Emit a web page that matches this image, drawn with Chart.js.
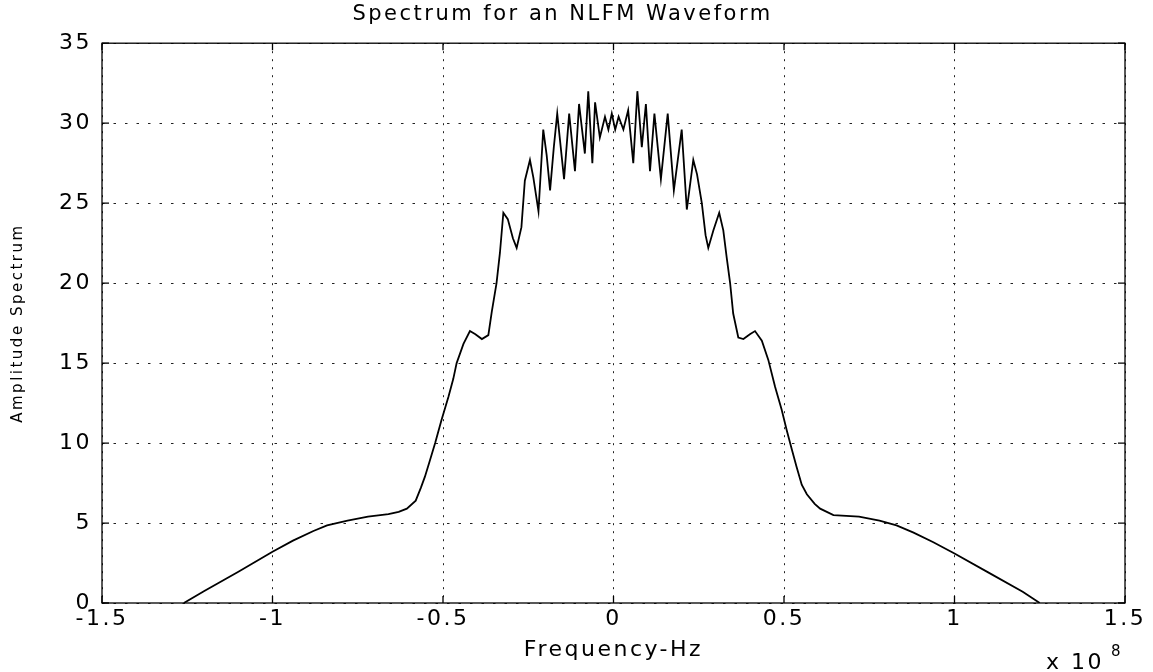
<!DOCTYPE html>
<html>
<head>
<meta charset="utf-8">
<title>Spectrum for an NLFM Waveform</title>
<script src="https://cdn.jsdelivr.net/npm/chart.js@4.4.1/dist/chart.umd.min.js"></script>
<style>
  html, body { margin: 0; padding: 0; background: #fff; }
  #wrap { position: relative; width: 1153px; height: 672px; }
</style>
</head>
<body>
<div id="wrap"><canvas id="spectrum"></canvas></div>
<script>
// frequency in units of 1e8 Hz (axis shows "x 10^8")
const freqs = [
  -1.26, -1.20, -1.10, -1.00, -0.94, -0.88, -0.84, -0.78, -0.72, -0.66,
  -0.63, -0.606, -0.58, -0.565, -0.553, -0.54, -0.523, -0.505, -0.484, -0.47,
  -0.46, -0.44, -0.421, -0.405, -0.386, -0.367, -0.357, -0.343, -0.333, -0.323,
  -0.31, -0.295, -0.284, -0.27, -0.26, -0.245, -0.235, -0.22, -0.206, -0.196,
  -0.186, -0.175, -0.165, -0.145, -0.130, -0.113, -0.101, -0.084, -0.074, -0.062,
  -0.054, -0.040, -0.025, -0.015, -0.005, 0.005, 0.015, 0.029, 0.043, 0.058,
  0.070, 0.083, 0.095, 0.107, 0.120, 0.139, 0.159, 0.177, 0.200, 0.215,
  0.234, 0.245, 0.259, 0.270, 0.278, 0.293, 0.310, 0.322, 0.332, 0.342,
  0.351, 0.366, 0.381, 0.400, 0.415, 0.435, 0.454, 0.474, 0.493, 0.508,
  0.523, 0.537, 0.552, 0.567, 0.590, 0.606, 0.645, 0.72, 0.78, 0.83,
  0.88, 0.938, 1.00, 1.10, 1.20, 1.25
];
const amps = [
  0, 0.75, 1.95, 3.2, 3.9, 4.5, 4.85, 5.15, 5.4, 5.55,
  5.7, 5.9, 6.4, 7.2, 7.9, 8.8, 10.0, 11.4, 12.9, 14.0,
  15.0, 16.2, 17.0, 16.8, 16.5, 16.75, 18.2, 20.0, 21.9, 24.4,
  24.0, 22.8, 22.2, 23.5, 26.4, 27.7, 26.6, 24.5, 29.6, 28.0,
  25.8, 28.5, 30.6, 26.5, 30.6, 27.0, 31.2, 28.1, 32.0, 27.5,
  31.3, 29.1, 30.4, 29.6, 30.6, 29.6, 30.4, 29.6, 30.8, 27.5,
  32.0, 28.5, 31.2, 27.0, 30.6, 26.5, 30.6, 25.8, 29.6, 24.6,
  27.7, 26.8, 25.0, 23.0, 22.2, 23.3, 24.4, 23.3, 21.6, 20.0,
  18.1, 16.6, 16.5, 16.8, 17.0, 16.4, 15.2, 13.5, 12.1, 10.8,
  9.6, 8.5, 7.4, 6.8, 6.2, 5.9, 5.5, 5.4, 5.15, 4.85,
  4.4, 3.8, 3.1, 1.9, 0.7, 0
];
const xTicks = [-1.5, -1, -0.5, 0, 0.5, 1, 1.5];
const yTicks = [0, 5, 10, 15, 20, 25, 30, 35];

const FONT = '"DejaVu Sans", Arial, sans-serif';
const SPACING = '2.5px';

// the picture has wide, stretched lettering: widen every label a bit
const spacingPlugin = {
  id: 'spacing',
  beforeLayout(chart) { chart.ctx.letterSpacing = SPACING; },
  beforeDraw(chart) { chart.ctx.letterSpacing = SPACING; }
};

// matlab style box, inward ticks and the "x 10^8" exponent
const framePlugin = {
  id: 'frame',
  afterDraw(chart) {
    const ctx = chart.ctx;
    const a = chart.chartArea;
    const xs = chart.scales.x, ys = chart.scales.y;
    ctx.save();
    ctx.strokeStyle = '#000';
    ctx.lineWidth = 1.3;
    ctx.setLineDash([]);
    ctx.strokeRect(a.left, a.top, a.right - a.left, a.bottom - a.top);
    ctx.beginPath();
    xTicks.forEach(v => {
      const px = xs.getPixelForValue(v);
      ctx.moveTo(px, a.bottom); ctx.lineTo(px, a.bottom - 7);
      ctx.moveTo(px, a.top); ctx.lineTo(px, a.top + 7);
    });
    yTicks.forEach(v => {
      const py = ys.getPixelForValue(v);
      ctx.moveTo(a.left, py); ctx.lineTo(a.left + 7, py);
      ctx.moveTo(a.right, py); ctx.lineTo(a.right - 7, py);
    });
    ctx.stroke();

    ctx.fillStyle = '#000';
    ctx.letterSpacing = SPACING;
    ctx.textAlign = 'left';
    ctx.textBaseline = 'alphabetic';
    ctx.font = '22px ' + FONT;
    ctx.fillText('x 10', 1046, 669);
    ctx.font = '15px ' + FONT;
    ctx.fillText('8', 1111, 656);
    ctx.restore();
  }
};

const ctx = document.getElementById('spectrum');
new Chart(ctx, {
  type: 'line',
  data: {
    datasets: [{
      data: freqs.map((f, i) => ({ x: f, y: amps[i] })),
      borderColor: '#000',
      borderWidth: 1.8,
      pointRadius: 0,
      tension: 0,
      fill: false
    }]
  },
  options: {
    responsive: true,
    maintainAspectRatio: false,
    animation: false,
    layout: { padding: { left: 0, right: 28, top: 0, bottom: 0 } },
    plugins: {
      legend: { display: false },
      tooltip: { enabled: false },
      title: {
        display: true,
        text: 'Spectrum for an NLFM Waveform',
        color: '#000',
        font: { family: FONT, size: 21, weight: 'normal' },
        padding: { top: 2, bottom: 16 }
      }
    },
    scales: {
      x: {
        type: 'linear',
        min: -1.5,
        max: 1.5,
        afterFit: s => { s.height = 69; },
        afterBuildTicks: s => { s.ticks = xTicks.map(v => ({ value: v })); },
        ticks: {
          color: '#000',
          font: { family: FONT, size: 22 },
          padding: 3,
          maxRotation: 0,
          callback: v => String(v)
        },
        grid: { color: '#222', lineWidth: 1, drawTicks: false },
        border: { display: false, dash: [2, 6] },
        title: {
          display: true,
          text: 'Frequency-Hz',
          color: '#000',
          font: { family: FONT, size: 22 },
          padding: { top: 0, bottom: 9 }
        }
      },
      y: {
        min: 0,
        max: 35,
        afterFit: s => { s.width = 102; },
        afterBuildTicks: s => { s.ticks = yTicks.map(v => ({ value: v })); },
        ticks: {
          color: '#000',
          font: { family: FONT, size: 22 },
          padding: 10
        },
        grid: { color: '#222', lineWidth: 1, drawTicks: false },
        border: { display: false, dash: [2.5, 9] },
        title: {
          display: true,
          text: 'Amplitude Spectrum',
          color: '#000',
          font: { family: FONT, size: 15 },
          padding: { top: 9, bottom: 0 }
        }
      }
    }
  },
  plugins: [spacingPlugin, framePlugin]
});
</script>
</body>
</html>
